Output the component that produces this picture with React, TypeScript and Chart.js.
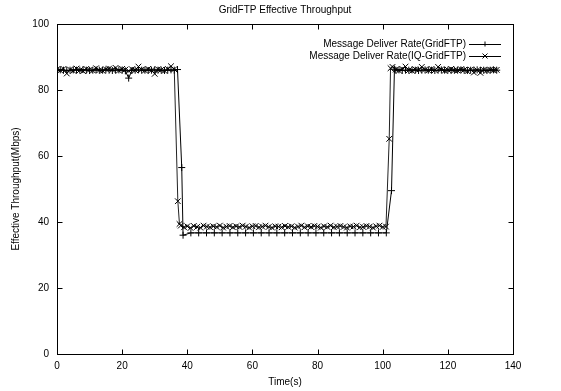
import { useEffect, useRef } from 'react';
import { Chart, registerables } from 'chart.js';

Chart.register(...registerables);

const chartTitle = 'GridFTP Effective Throughput';
const xAxisTitle = 'Time(s)';
const yAxisTitle = 'Effective Throughput(Mbps)';
const seriesNames = ['Message Deliver Rate(GridFTP)', 'Message Deliver Rate(IQ-GridFTP)'];

const xTicks = [0, 20, 40, 60, 80, 100, 120, 140];
const yTicks = [0, 20, 40, 60, 80, 100];

// GridFTP (+)
const gridTimes = [
  0, 1, 2, 3, 4, 5, 6, 7, 8, 9,
  10, 11, 12, 13, 14, 15, 16, 17, 18, 19,
  20, 21, 22, 23, 24, 25, 26, 27, 28, 29,
  30, 31, 32, 33, 34, 35, 36, 37,
  38.3, 38.7,
  41.1, 43.5, 45.9, 48.3, 50.7, 53.1, 55.5, 57.9, 60.3, 62.7,
  65.1, 67.5, 69.9, 72.3, 74.7, 77.1, 79.5, 81.9, 84.3, 86.7,
  89.1, 91.5, 93.9, 96.3, 98.7, 101.1,
  102.7, 103.6,
  104, 105, 106, 107, 108, 109, 110, 111, 112, 113,
  114, 115, 116, 117, 118, 119, 120, 121, 122, 123,
  124, 125, 126, 127, 128, 129, 130, 131, 132, 133,
  134, 135,
];
const gridValues = [
  86.0, 86.1, 86.0, 85.9, 86.0, 86.1, 86.0, 86.0, 86.2, 86.0,
  85.9, 86.0, 86.1, 86.0, 86.0, 86.1, 86.0, 85.9, 86.0, 86.1,
  86.0, 85.8, 83.6, 85.9, 86.0, 86.1, 86.0, 86.0, 85.9, 86.0,
  86.1, 86.0, 86.0, 85.9, 86.0, 86.1, 86.0, 86.2,
  56.5, 36.0,
  36.7, 36.7, 36.7, 36.7, 36.7, 36.7, 36.7, 36.7, 36.7, 36.7,
  36.7, 36.7, 36.7, 36.7, 36.7, 36.7, 36.7, 36.7, 36.7, 36.7,
  36.7, 36.7, 36.7, 36.7, 36.7, 36.7,
  49.5, 86.3,
  86.0, 86.1, 85.9, 86.0, 86.0, 86.1, 86.0, 85.9, 86.0, 86.1,
  86.0, 86.0, 85.9, 86.0, 86.1, 86.0, 86.0, 85.9, 86.0, 86.0,
  86.1, 86.0, 85.9, 86.0, 86.0, 86.1, 86.0, 86.0, 85.9, 86.0,
  86.1, 86.0,
];

// IQ-GridFTP (x)
const iqTimes = [
  0, 1, 2, 3, 4, 5, 6, 7, 8, 9,
  10, 11, 12, 13, 14, 15, 16, 17, 18, 19,
  20, 21, 22, 23, 24, 25, 26, 27, 28, 29,
  30, 31, 32, 33, 34, 35, 36,
  37.1, 37.6,
  38, 39, 40, 41, 42, 43, 44, 45, 46, 47,
  48, 49, 50, 51, 52, 53, 54, 55, 56, 57,
  58, 59, 60, 61, 62, 63, 64, 65, 66, 67,
  68, 69, 70, 71, 72, 73, 74, 75, 76, 77,
  78, 79, 80, 81, 82, 83, 84, 85, 86, 87,
  88, 89, 90, 91, 92, 93, 94, 95, 96, 97,
  98, 99, 100, 101,
  102, 102.4,
  103, 104, 105, 106, 107, 108, 109, 110, 111, 112,
  113, 114, 115, 116, 117, 118, 119, 120, 121, 122,
  123, 124, 125, 126, 127, 128, 129, 130, 131, 132,
  133, 134, 135,
];
const iqValues = [
  86.3, 85.9, 86.4, 85.0, 86.2, 85.8, 86.5, 86.0, 85.7, 86.4,
  86.1, 85.9, 86.6, 86.0, 85.8, 86.3, 86.5, 86.1, 86.7, 85.9,
  86.4, 86.2, 85.8, 86.3, 86.0, 87.1, 86.2, 85.9, 86.4, 86.0,
  84.9, 86.3, 86.1, 85.8, 86.4, 87.2, 86.3,
  46.3, 39.4,
  38.9, 38.4, 38.7, 38.2, 38.8, 38.5, 38.3, 38.9,
  38.6, 38.4, 38.7, 38.5, 38.9, 38.3, 38.6, 38.8,
  38.4, 38.7, 38.5, 38.9, 38.6, 38.3, 38.7, 38.8,
  38.4, 38.6, 38.9, 38.5, 38.3, 38.7, 38.6, 38.4,
  38.8, 38.5, 38.7, 38.3, 38.6, 38.9, 38.4, 38.7,
  38.5, 38.8, 38.6, 38.3, 38.7, 38.5, 38.9, 38.4,
  38.6, 38.8, 38.5, 38.3, 38.7, 38.6, 38.9, 38.4,
  38.5, 38.8, 38.6, 38.3, 38.7, 38.9, 38.5, 38.6,
  65.2, 86.6,
  87.0, 86.2, 85.9, 86.4, 87.1, 86.0, 85.8, 86.3, 86.1, 87.0,
  86.2, 85.9, 86.4, 86.0, 87.0, 86.3, 85.8, 86.1, 86.4, 86.0,
  85.9, 86.3, 86.1, 85.7, 86.2, 85.3, 86.0, 85.2, 86.1, 85.9,
  86.2, 86.0, 86.1,
];

const FONT = '"Liberation Sans", Arial, Helvetica, sans-serif';

const framePlugin = {
  id: 'gnuplotFrame',
  afterDraw(chart: any) {
    const { ctx, chartArea } = chart;
    const xs = chart.scales.x;
    const ys = chart.scales.y;
    const l = Math.round(chartArea.left) + 0.5;
    const r = Math.round(chartArea.right) + 0.5;
    const t = Math.round(chartArea.top) + 0.5;
    const b = Math.round(chartArea.bottom) + 0.5;
    const tl = 5;
    ctx.save();
    ctx.strokeStyle = '#000';
    ctx.lineWidth = 1;
    ctx.beginPath();
    for (const v of xTicks) {
      const px = Math.round(xs.getPixelForValue(v)) + 0.5;
      ctx.moveTo(px, b);
      ctx.lineTo(px, b - tl);
      ctx.moveTo(px, t);
      ctx.lineTo(px, t + tl);
    }
    for (const v of yTicks) {
      const py = Math.round(ys.getPixelForValue(v)) + 0.5;
      ctx.moveTo(l, py);
      ctx.lineTo(l + tl, py);
      ctx.moveTo(r, py);
      ctx.lineTo(r - tl, py);
    }
    ctx.stroke();
    ctx.strokeRect(l, t, r - l, b - t);

    // title
    ctx.fillStyle = '#000';
    ctx.font = `10px ${FONT}`;
    ctx.textAlign = 'center';
    ctx.textBaseline = 'middle';
    ctx.fillText(chartTitle, (chartArea.left + chartArea.right) / 2, 10);

    // legend
    const textRight = 466;
    const lineStart = 469;
    const lineEnd = 501;
    const rows = [44, 56];
    chart.data.datasets.forEach((ds: any, i: number) => {
      const y = rows[i];
      ctx.textAlign = 'right';
      ctx.textBaseline = 'middle';
      ctx.fillText(seriesNames[i], textRight, y);
      ctx.beginPath();
      ctx.moveTo(lineStart, y + 0.5);
      ctx.lineTo(lineEnd, y + 0.5);
      const cx = (lineStart + lineEnd) / 2;
      const m = 2.5;
      if (ds.pointStyle === 'cross') {
        ctx.moveTo(cx, y - m);
        ctx.lineTo(cx, y + m);
      } else {
        ctx.moveTo(cx - m, y - m);
        ctx.lineTo(cx + m, y + m);
        ctx.moveTo(cx - m, y + m);
        ctx.lineTo(cx + m, y - m);
      }
      ctx.stroke();
    });
    ctx.restore();
  },
};

export default function App() {
  const ref = useRef<HTMLCanvasElement>(null);
  useEffect(() => {
    document.body.style.margin = '0';
    const canvas = ref.current!;
    const chart = new Chart(canvas, {
      type: 'line',
      data: {
        datasets: [
          {
            label: seriesNames[0],
            data: gridTimes.map((t, i) => ({ x: t, y: gridValues[i] })),
            borderColor: '#000',
            borderWidth: 1,
            pointStyle: 'cross',
            pointRadius: 3.5,
            pointBorderColor: '#000',
            pointBorderWidth: 1,
            tension: 0,
            fill: false,
          },
          {
            label: seriesNames[1],
            data: iqTimes.map((t, i) => ({ x: t, y: iqValues[i] })),
            borderColor: '#222',
            borderWidth: 1,
            pointStyle: 'crossRot',
            pointRadius: 4,
            pointBorderColor: '#000',
            pointBorderWidth: 1,
            tension: 0,
            fill: false,
          },
        ],
      },
      options: {
        responsive: false,
        animation: false,
        events: [],
        layout: { padding: { top: 24, right: 48, left: 0, bottom: 0 } },
        plugins: {
          legend: { display: false },
          title: { display: false },
          tooltip: { enabled: false },
        },
        scales: {
          x: {
            type: 'linear',
            min: 0,
            max: 140,
            afterFit: (s: any) => {
              s.height = 37;
            },
            afterBuildTicks: (s: any) => {
              s.ticks = xTicks.map((v) => ({ value: v }));
            },
            grid: { display: false, drawTicks: false },
            border: { display: false },
            ticks: {
              color: '#000',
              font: { family: FONT, size: 10 },
              padding: 6,
              maxRotation: 0,
            },
            title: {
              display: true,
              text: xAxisTitle,
              color: '#000',
              font: { family: FONT, size: 10 },
              padding: { top: 0, bottom: 3 },
            },
          },
          y: {
            type: 'linear',
            min: 0,
            max: 100,
            afterFit: (s: any) => {
              s.width = 57;
            },
            afterBuildTicks: (s: any) => {
              s.ticks = yTicks.map((v) => ({ value: v }));
            },
            grid: { display: false, drawTicks: false },
            border: { display: false },
            ticks: {
              color: '#000',
              font: { family: FONT, size: 10 },
              padding: 8,
            },
            title: {
              display: true,
              text: yAxisTitle,
              color: '#000',
              font: { family: FONT, size: 10 },
              padding: { top: 10, bottom: 0 },
            },
          },
        },
      },
      plugins: [framePlugin],
    });
    return () => chart.destroy();
  }, []);
  return <canvas ref={ref} width={561} height={391} style={{ display: 'block' }} />;
}
